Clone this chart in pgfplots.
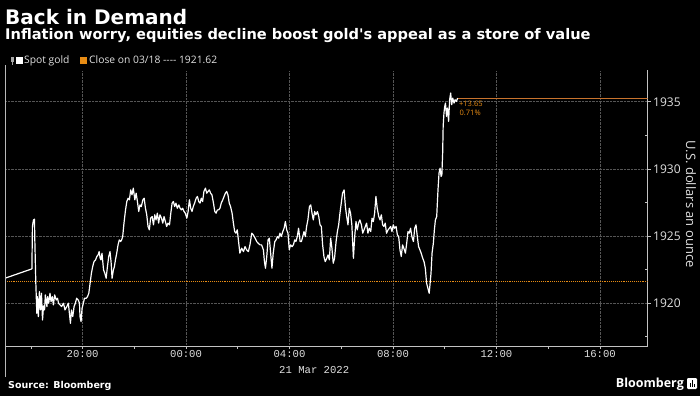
\documentclass[border=0pt]{standalone}
\usepackage{fontspec}
\setmainfont{Open Sans}
\newfontfamily\dejavu{DejaVu Sans}
\newfontfamily\mono{Liberation Mono}
\usepackage{pgfplots}
\pgfplotsset{compat=1.18}
\definecolor{axgray}{RGB}{195,195,195}
\definecolor{gridgray}{RGB}{85,85,85}
\definecolor{closeor}{RGB}{232,140,20}
\definecolor{lastor}{RGB}{200,115,45}
\definecolor{txt}{RGB}{225,225,225}
\begin{document}
\begin{tikzpicture}[x=1pt,y=1pt]
\fill[black] (0,0) rectangle (700,396);
\begin{axis}[
  at={(5pt,50pt)}, anchor=south west,
  scale only axis, width=642.5pt, height=275.5pt,
  xmin=17, xmax=41.84, ymin=1916.79, ymax=1937.33,
  axis x line*=bottom, axis y line*=right,
  axis line style={axgray, line width=0.8pt, -},
  xtick={20,24,28,32,36,40},
  xticklabels={20:00,00:00,04:00,08:00,12:00,16:00},
  minor xtick={18,22,26,30,34,38},
  ytick={1920,1925,1930,1935},
  yticklabels={1920,1925,1930,1935},
  extra y ticks={1917.5,1922.5,1927.5,1932.5},
  extra y tick labels={},
  extra y tick style={grid=none, tick align=inside},
  tick align=outside, major tick length=3pt, minor tick length=3pt,
  tick style={axgray, line width=0.6pt},
  grid=major,
  major grid style={gridgray, densely dotted, line width=0.6pt},
  xticklabel style={font=\mono\fontsize{10.6}{12}\selectfont, text=txt, inner sep=1.5pt},
  yticklabel style={font=\fontsize{12}{14}\selectfont, text=txt, inner sep=0pt, xshift=2.5pt},
]
\addplot[closeor, densely dotted, line width=0.9pt] coordinates {(17,1921.62) (41.84,1921.62)};
\addplot[lastor, line width=0.8pt] coordinates {(34.50,1935.27) (41.84,1935.27)};
\addplot[white, line width=1.2pt, line join=round] coordinates {
(17.01,1921.85) (18.04,1922.54) (18.06,1925.70) (18.10,1926.19) (18.14,1926.24) (18.15,1924.95)
(18.19,1921.59) (18.23,1919.23) (18.25,1920.47) (18.29,1918.98) (18.33,1920.85) (18.37,1919.48)
(18.41,1920.72) (18.45,1918.73) (18.49,1919.78) (18.53,1919.48) (18.56,1920.60) (18.62,1919.73)
(18.65,1920.47) (18.69,1919.98) (18.74,1920.72) (18.78,1920.10) (18.83,1920.47) (18.87,1919.85)
(18.92,1920.60) (18.98,1920.22) (19.03,1920.35) (19.07,1919.98) (19.13,1919.85) (19.19,1919.73)
(19.26,1919.98) (19.32,1919.48) (19.39,1919.73) (19.45,1919.98) (19.49,1919.23) (19.53,1918.48)
(19.57,1919.48) (19.62,1918.98) (19.67,1919.73) (19.72,1919.98) (19.77,1920.35) (19.83,1920.22)
(19.88,1919.98) (19.90,1918.98) (19.94,1918.61) (19.98,1919.60) (20.03,1919.98) (20.07,1920.35)
(20.14,1920.35) (20.19,1920.47) (20.24,1920.72) (20.29,1921.47) (20.34,1922.21) (20.39,1922.71)
(20.44,1923.08) (20.50,1923.21) (20.55,1923.46) (20.60,1923.58) (20.64,1923.83) (20.68,1923.33)
(20.71,1923.21) (20.75,1923.71) (20.81,1922.46) (20.86,1922.21) (20.91,1921.84) (20.96,1922.71)
(21.01,1923.46) (21.06,1923.83) (21.10,1923.08) (21.14,1921.84) (21.19,1922.46) (21.23,1922.71)
(21.27,1923.21) (21.32,1923.71) (21.37,1924.33) (21.42,1924.70) (21.47,1924.58) (21.51,1924.70)
(21.55,1924.95) (21.60,1925.95) (21.66,1926.94) (21.71,1927.56) (21.76,1927.81) (21.81,1927.69)
(21.86,1928.43) (21.91,1928.06) (21.96,1928.56) (22.02,1927.69) (22.07,1928.18) (22.12,1927.56)
(22.17,1926.82) (22.22,1927.31) (22.27,1927.19) (22.33,1927.69) (22.38,1927.81) (22.43,1927.06)
(22.48,1926.57) (22.53,1925.70) (22.58,1925.45) (22.63,1926.32) (22.69,1926.44) (22.74,1925.82)
(22.79,1926.57) (22.84,1926.19) (22.89,1926.69) (22.94,1925.95) (22.99,1926.57) (23.05,1926.32)
(23.10,1925.95) (23.15,1926.44) (23.20,1926.07) (23.25,1925.70) (23.30,1925.95) (23.36,1925.82)
(23.41,1926.69) (23.46,1927.44) (23.51,1927.56) (23.56,1927.19) (23.61,1927.44) (23.66,1927.06)
(23.72,1927.31) (23.77,1927.06) (23.82,1926.94) (23.87,1927.06) (23.92,1926.82) (23.97,1926.69)
(24.03,1926.32) (24.08,1926.82) (24.13,1927.69) (24.18,1927.06) (24.23,1926.82) (24.28,1927.19)
(24.33,1927.44) (24.39,1927.81) (24.44,1927.94) (24.49,1927.56) (24.54,1927.44) (24.59,1927.81)
(24.64,1927.56) (24.69,1928.31) (24.75,1928.56) (24.80,1928.18) (24.85,1928.31) (24.90,1928.43)
(24.95,1928.18) (25.00,1928.06) (25.06,1927.44) (25.11,1926.82) (25.16,1926.69) (25.21,1926.94)
(25.26,1926.94) (25.31,1927.06) (25.36,1927.44) (25.42,1927.69) (25.47,1927.94) (25.52,1928.18)
(25.57,1928.31) (25.62,1928.06) (25.67,1927.44) (25.72,1927.19) (25.78,1926.69) (25.83,1925.95)
(25.88,1925.32) (25.93,1925.20) (25.98,1925.45) (26.03,1924.58) (26.08,1923.71)
(26.15,1924.08) (26.22,1923.83) (26.28,1924.20) (26.34,1923.96) (26.41,1923.83) (26.47,1924.33)
(26.54,1925.20) (26.60,1925.07) (26.67,1924.83) (26.73,1924.58) (26.79,1924.45) (26.86,1924.33)
(26.92,1924.33) (26.99,1923.96) (27.03,1923.08) (27.07,1922.59) (27.12,1923.46) (27.17,1924.70)
(27.22,1924.83) (27.27,1923.71) (27.32,1922.59) (27.37,1923.71) (27.43,1924.58) (27.48,1924.70)
(27.53,1924.95) (27.58,1924.83) (27.63,1925.20) (27.68,1924.95) (27.74,1925.32) (27.79,1925.57)
(27.84,1926.07) (27.89,1925.45) (27.94,1925.20) (27.99,1923.96) (28.04,1924.33) (28.10,1924.20)
(28.15,1924.33) (28.20,1924.70) (28.25,1924.58) (28.30,1924.95) (28.35,1925.57) (28.41,1924.58)
(28.46,1924.58) (28.51,1924.95) (28.56,1925.32) (28.61,1924.95) (28.66,1925.70) (28.71,1926.19)
(28.77,1927.19) (28.82,1927.31) (28.87,1926.69) (28.92,1926.19) (28.97,1926.82) (29.02,1926.57)
(29.08,1926.82) (29.13,1926.44) (29.18,1925.82) (29.23,1925.70) (29.28,1924.33) (29.33,1923.46)
(29.38,1923.08) (29.44,1923.33) (29.49,1923.58) (29.54,1923.21) (29.59,1924.83) (29.64,1924.08)
(29.69,1922.96) (29.74,1923.33) (29.80,1924.58) (29.85,1925.32) (29.90,1925.82) (29.95,1926.69)
(30.00,1927.44) (30.05,1928.18) (30.11,1928.43) (30.16,1927.19) (30.21,1926.44) (30.26,1925.82)
(30.31,1927.06) (30.36,1926.69) (30.41,1925.82) (30.47,1923.33) (30.52,1924.95) (30.57,1926.07)
(30.62,1925.45) (30.67,1925.95) (30.72,1926.19) (30.78,1925.82) (30.83,1925.20) (30.88,1925.45)
(30.93,1925.70) (30.98,1925.95) (31.03,1925.20) (31.08,1925.57) (31.14,1925.32) (31.19,1926.32)
(31.24,1926.07) (31.29,1926.69) (31.34,1927.94) (31.39,1927.06) (31.45,1926.44) (31.50,1926.19)
(31.55,1926.57) (31.60,1925.82) (31.65,1925.70) (31.70,1925.95) (31.75,1925.20) (31.81,1925.45)
(31.86,1925.57) (31.91,1925.70) (31.96,1925.32) (32.01,1925.82) (32.06,1925.57) (32.12,1925.70)
(32.17,1925.07) (32.22,1924.95) (32.27,1923.96) (32.32,1923.46) (32.37,1924.33) (32.42,1924.08)
(32.48,1923.71) (32.53,1924.45) (32.58,1925.32) (32.63,1925.20) (32.68,1925.57) (32.73,1924.95)
(32.79,1924.58) (32.84,1925.57) (32.89,1925.82) (32.94,1924.95) (32.99,1924.20) (33.04,1923.96)
(33.09,1923.71) (33.15,1923.33) (33.20,1923.08) (33.25,1922.59) (33.30,1921.47) (33.35,1921.09)
(33.40,1920.72) (33.47,1922.21) (33.51,1923.71) (33.56,1924.45) (33.60,1925.45) (33.64,1926.19)
(33.69,1926.44) (33.74,1928.43) (33.78,1929.68) (33.82,1930.05) (33.86,1929.43) (33.89,1929.55)
(33.92,1931.17) (33.94,1933.16) (33.97,1934.15) (34.00,1934.65) (34.03,1934.90) (34.07,1933.91)
(34.11,1934.53) (34.15,1933.53) (34.19,1935.15) (34.23,1935.65) (34.27,1934.78) (34.31,1935.27)
(34.36,1934.90) (34.40,1935.15) (34.45,1935.02) (34.50,1935.27)
};
\node[anchor=west, inner sep=0pt, font=\fontsize{7.5}{8}\selectfont, text=closeor] at (axis cs:34.55,1934.85) {+13.65};
\node[anchor=west, inner sep=0pt, font=\fontsize{7.5}{8}\selectfont, text=closeor] at (axis cs:34.57,1934.15) {0.71\%};
\end{axis}
% left border line
\draw[gray!55, line width=0.6pt] (5,19) -- (5,331);
% title and subtitle
\node[anchor=base west, inner sep=0pt, text=white, font=\dejavu\bfseries\fontsize{20}{24}\selectfont] at (5,371) {Back in Demand};
\node[anchor=base west, inner sep=0pt, text=white, font=\dejavu\bfseries\fontsize{14.6}{17}\selectfont] at (5,356) {Inflation worry, equities decline boost gold's appeal as a store of value};
% legend
\fill[gray!70] (10.5,334) rectangle (13.5,338.5);
\draw[gray!70, line width=0.6pt] (12,334) -- (12,331);
\fill[white] (16,332) rectangle (22.5,338.5);
\node[anchor=base west, inner sep=0pt, text=txt, font=\fontsize{10.3}{12}\selectfont] at (24,332) {Spot gold};
\fill[closeor] (80,332) rectangle (86.5,338.5);
\node[anchor=base west, inner sep=0pt, text=txt, font=\fontsize{10.3}{12}\selectfont] at (89,332) {Close on 03/18 {-}{-}{-}{-} 1921.62};
% date and y label
\node[anchor=base west, inner sep=0pt, text=txt, font=\mono\fontsize{10.6}{12}\selectfont] at (279,23) {21 Mar 2022};
\node[rotate=-90, inner sep=0pt, text=txt, font=\fontsize{13}{15}\selectfont] at (691,192) {U.S. dollars an ounce};
% footer
\node[anchor=base west, inner sep=0pt, text=white, font=\dejavu\bfseries\fontsize{9.5}{11}\selectfont] at (8,8) {Source: Bloomberg};
\node[anchor=base east, inner sep=0pt, text=white, font=\bfseries\fontsize{12.5}{14}\selectfont] at (684,9) {Bloomberg};
\fill[white, rounded corners=1.2pt] (687,7) rectangle (697,18);
\fill[black] (689.5,9) rectangle (690.7,13);
\fill[black] (691.5,9) rectangle (692.7,16);
\fill[black] (693.5,9) rectangle (694.7,12);
\pgfresetboundingbox
\path[use as bounding box] (0,0) rectangle (700,396);
\end{tikzpicture}
\end{document}
